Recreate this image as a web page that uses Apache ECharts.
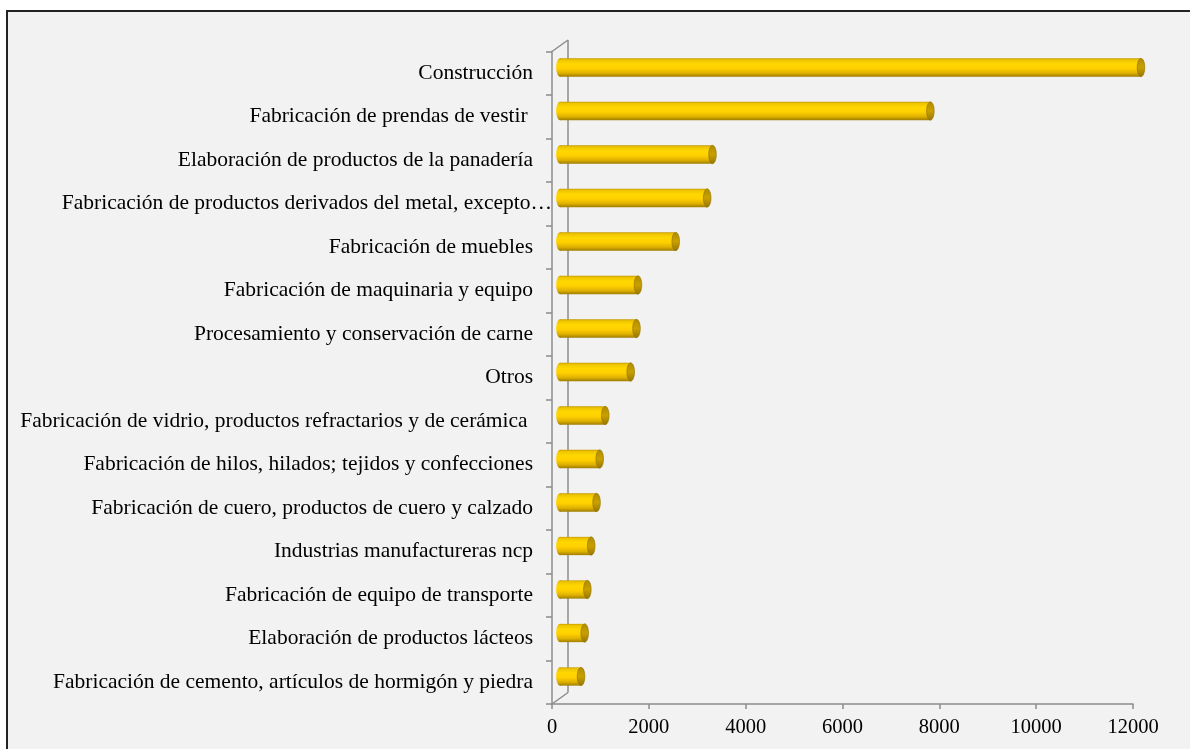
<!DOCTYPE html>
<html>
<head>
<meta charset="utf-8">
<script src="https://cdn.jsdelivr.net/npm/echarts@6/dist/echarts.min.js"></script>
<style>
html,body{margin:0;padding:0;background:#fff;}
#c{width:1190px;height:749px;}
</style>
</head>
<body>
<div id="c"></div>
<script>
const categories = [
  "Construcción",
  "Fabricación de prendas de vestir ",
  "Elaboración de productos de la panadería",
  "Fabricación de productos derivados del metal, excepto…",
  "Fabricación de muebles",
  "Fabricación de maquinaria y equipo",
  "Procesamiento y conservación de carne",
  "Otros",
  "Fabricación de vidrio, productos refractarios y de cerámica ",
  "Fabricación de hilos, hilados; tejidos y confecciones",
  "Fabricación de cuero, productos de cuero y calzado",
  "Industrias manufactureras ncp",
  "Fabricación de equipo de transporte",
  "Elaboración de productos lácteos",
  "Fabricación de cemento, artículos de hormigón y piedra"
];
const values = [12000, 7650, 3150, 3040, 2390, 1610, 1580, 1460, 935, 820, 755, 645, 565, 510, 435];
const valueTicks = [0, 2000, 4000, 6000, 8000, 10000, 12000];

const chart = echarts.init(document.getElementById('c'), null, {renderer: 'canvas'});
const FONT = 'Liberation Serif';
const DEPTH_X = 16, DEPTH_Y = -11.5;

const bodyGrad = new echarts.graphic.LinearGradient(0, 0, 0, 1, [
  {offset: 0, color: '#c49c00'},
  {offset: 0.08, color: '#eec400'},
  {offset: 0.3, color: '#ffd700'},
  {offset: 0.55, color: '#ffd000'},
  {offset: 0.8, color: '#e0b200'},
  {offset: 1, color: '#a07e00'}
]);
const capGrad = new echarts.graphic.LinearGradient(0, 0, 0, 1, [
  {offset: 0, color: '#b08c00'},
  {offset: 0.5, color: '#c9a000'},
  {offset: 1, color: '#967600'}
]);

const barData = values.map((v, i) => [v, i]);

chart.setOption({
  backgroundColor: '#ffffff',
  animation: false,
  graphic: [{
    type: 'rect', z: -10, silent: true,
    shape: {x: 7, y: 11, width: 1200, height: 800},
    style: {fill: '#f2f2f2', stroke: '#222', lineWidth: 2}
  }],
  grid: {left: 552, right: 57, top: 51.5, bottom: 45, containLabel: false},
  xAxis: {
    type: 'value', min: 0, max: 12000, interval: 2000,
    axisLine: {show: true, lineStyle: {color: '#8c8c8c', width: 1.5}},
    axisTick: {show: true, length: 5, lineStyle: {color: '#8c8c8c', width: 1.5}},
    splitLine: {show: false},
    axisLabel: {
      margin: 13, color: '#000', fontFamily: FONT, fontSize: 20.5,
      formatter: v => valueTicks.includes(v) ? String(v) : ''
    }
  },
  yAxis: {
    type: 'category', data: categories, inverse: true,
    axisLine: {show: true, lineStyle: {color: '#8c8c8c', width: 1.5}},
    axisTick: {show: true, length: 6, lineStyle: {color: '#8c8c8c', width: 1.5}},
    splitLine: {show: false},
    axisLabel: {
      margin: 19, color: '#000', fontFamily: FONT, fontSize: 21.5, interval: 0,
      formatter: v => v.endsWith('…') ? '{m|' + v + '}' : v,
      rich: {m: {fontFamily: FONT, fontSize: 21.5, color: '#000', padding: [0, -19, 0, 0]}}
    }
  },
  series: [{
    type: 'custom',
    z: 1,
    silent: true,
    data: [[0, 0]],
    renderItem: function (params, api) {
      const cs = params.coordSys;
      const x = cs.x, y = cs.y, h = cs.height;
      const st = {stroke: '#8c8c8c', lineWidth: 1.5};
      return {
        type: 'group',
        children: [
          {type: 'line', shape: {x1: x + DEPTH_X, y1: y + DEPTH_Y, x2: x + DEPTH_X, y2: y + h + DEPTH_Y}, style: st},
          {type: 'line', shape: {x1: x, y1: y, x2: x + DEPTH_X, y2: y + DEPTH_Y}, style: st},
          {type: 'line', shape: {x1: x, y1: y + h, x2: x + DEPTH_X, y2: y + h + DEPTH_Y}, style: st}
        ]
      };
    }
  }, {
    type: 'custom',
    z: 2,
    silent: true,
    encode: {x: 0, y: 1},
    data: barData,
    renderItem: function (params, api) {
      const cat = api.value(1);
      const end = api.coord([api.value(0), cat]);
      const start = api.coord([0, cat]);
      const band = api.size([0, 1])[1];
      const bh = band * 0.42;
      const dx = DEPTH_X / 2, dy = DEPTH_Y / 2;
      const cy = end[1] + dy;
      const x0 = start[0] + dx, x1 = end[0] + dx;
      const rx = 3.8, ry = bh / 2;
      return {
        type: 'group',
        children: [
          {type: 'ellipse', shape: {cx: x0, cy: cy, rx: rx, ry: ry}, style: {fill: bodyGrad}},
          {type: 'rect', shape: {x: x0, y: cy - ry, width: x1 - x0, height: bh}, style: {fill: bodyGrad}},
          {type: 'ellipse', shape: {cx: x1, cy: cy, rx: rx, ry: ry}, style: {fill: capGrad, stroke: '#8f7000', lineWidth: 0.6}}
        ]
      };
    }
  }]
});
</script>
</body>
</html>
